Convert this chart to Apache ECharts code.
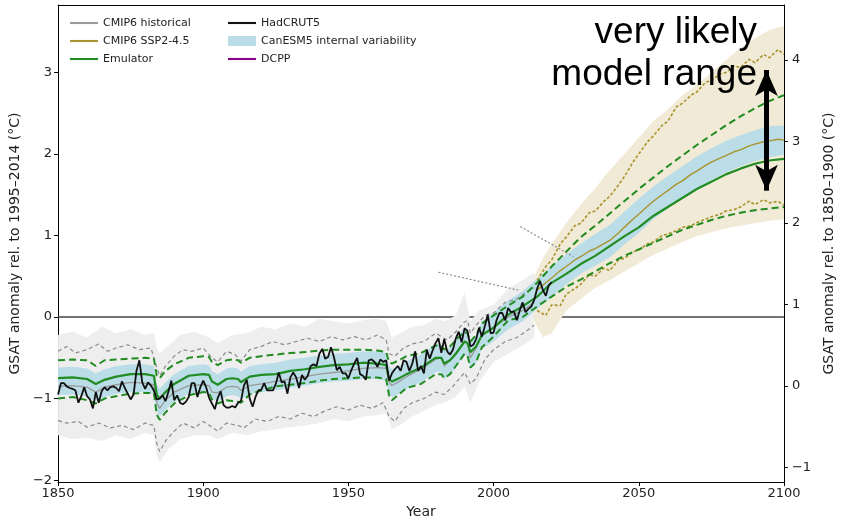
<!DOCTYPE html>
<html><head><meta charset="utf-8">
<script src="https://cdn.jsdelivr.net/npm/echarts@6/dist/echarts.min.js"></script>
<style>html,body{margin:0;padding:0;background:#fff}#c{width:844px;height:524px}</style>
</head><body><div id="c"></div>
<script>
// ---------- tick labels ----------
const xTicks = [1850, 1900, 1950, 2000, 2050, 2100];
const leftTicks = [-2, -1, 0, 1, 2, 3];
const rightTicks = [-1, 0, 1, 2, 3, 4];

// ---------- Emulator (green) and CanESM5 band (blue) ----------
const emuYears = [1850,1855,1860,1863,1866,1870,1875,1880,1883,1884,1885,1887,
  1890,1895,1900,1902,1903,1905,1908,1910,1912,1913,1916,
  1920,1925,1930,1935,1940,1945,1950,1955,1960,1963,
  1964,1965,1968,1970,1975,1980,1982,1983,1985,1987,1990,1991,1992,1994,1996,
  2000,2005,2010,2015,2020,2025,2030,2035,2040,2045,2050,2055,2060,2065,2070,2075,2080,2085,2090,2095,2100];
const emuMid = [-0.75,-0.74,-0.76,-0.82,-0.77,-0.73,-0.70,-0.70,-0.72,-0.95,-1.00,-0.92,
  -0.82,-0.72,-0.70,-0.71,-0.79,-0.83,-0.76,-0.75,-0.76,-0.80,-0.73,
  -0.71,-0.70,-0.66,-0.64,-0.61,-0.59,-0.58,-0.56,-0.57,-0.59,
  -0.76,-0.79,-0.74,-0.70,-0.62,-0.50,-0.50,-0.57,-0.53,-0.45,-0.30,-0.32,-0.43,-0.36,-0.22,
  -0.13,0.03,0.13,0.25,0.42,0.53,0.65,0.75,0.87,0.99,1.10,1.24,1.35,1.46,1.57,1.66,1.75,1.82,1.88,1.92,1.94];
const emuHigh = [-0.53,-0.52,-0.53,-0.60,-0.53,-0.52,-0.51,-0.50,-0.51,-0.72,-0.75,-0.66,
  -0.58,-0.50,-0.48,-0.49,-0.55,-0.59,-0.53,-0.52,-0.53,-0.56,-0.50,
  -0.48,-0.46,-0.44,-0.43,-0.41,-0.40,-0.40,-0.40,-0.41,-0.43,
  -0.55,-0.57,-0.52,-0.48,-0.44,-0.35,-0.35,-0.40,-0.36,-0.28,-0.18,-0.20,-0.30,-0.22,-0.08,
  0.02,0.14,0.25,0.42,0.62,0.80,0.98,1.12,1.27,1.42,1.57,1.71,1.85,1.98,2.11,2.23,2.35,2.46,2.56,2.65,2.72];
const emuLow = [-1.00,-0.98,-1.02,-1.06,-1.00,-0.97,-0.94,-0.93,-0.93,-1.20,-1.26,-1.17,
  -1.06,-0.96,-0.92,-0.93,-1.01,-1.06,-1.02,-1.03,-1.04,-1.05,-0.95,
  -0.90,-0.85,-0.83,-0.81,-0.78,-0.76,-0.75,-0.74,-0.74,-0.76,
  -0.96,-1.02,-0.93,-0.87,-0.82,-0.70,-0.70,-0.75,-0.70,-0.60,-0.45,-0.47,-0.62,-0.55,-0.37,
  -0.24,-0.04,0.00,0.13,0.25,0.37,0.46,0.56,0.66,0.75,0.83,0.91,0.99,1.07,1.13,1.19,1.24,1.28,1.31,1.33,1.35];
const blueHigh = [-0.62,-0.61,-0.63,-0.69,-0.64,-0.60,-0.58,-0.58,-0.60,-0.82,-0.88,-0.80,
  -0.70,-0.60,-0.58,-0.59,-0.66,-0.70,-0.63,-0.62,-0.63,-0.67,-0.60,
  -0.58,-0.56,-0.52,-0.50,-0.47,-0.45,-0.44,-0.42,-0.42,-0.44,
  -0.60,-0.64,-0.59,-0.54,-0.46,-0.34,-0.33,-0.42,-0.37,-0.28,-0.12,-0.14,-0.30,-0.22,-0.05,
  0.05,0.20,0.32,0.47,0.62,0.77,0.90,1.02,1.13,1.29,1.45,1.60,1.73,1.85,1.97,2.07,2.16,2.23,2.29,2.34,2.35];
const blueLow = [-0.96,-0.95,-0.97,-1.03,-0.98,-0.94,-0.92,-0.92,-0.94,-1.16,-1.22,-1.14,
  -1.04,-0.94,-0.92,-0.93,-1.00,-1.04,-0.97,-0.96,-0.97,-1.01,-0.94,
  -0.92,-0.90,-0.86,-0.84,-0.81,-0.79,-0.78,-0.76,-0.76,-0.78,
  -0.94,-0.98,-0.93,-0.88,-0.80,-0.68,-0.67,-0.76,-0.71,-0.62,-0.46,-0.48,-0.64,-0.56,-0.39,
  -0.30,-0.15,-0.05,0.10,0.25,0.40,0.53,0.63,0.73,0.89,1.03,1.20,1.33,1.45,1.57,1.68,1.77,1.85,1.91,1.96,1.99];

// ---------- CMIP6 historical (grey) ----------
const histYears = [1850,1855,1860,1863,1866,1870,1875,1880,1883,1884,1885,1887,
  1890,1895,1900,1902,1903,1905,1908,1910,1912,1913,1916,
  1920,1925,1930,1935,1940,1945,1950,1955,1960,1963,
  1964,1965,1968,1970,1975,1980,1982,1983,1985,1987,1990,1991,1992,1994,1996,
  2000,2005,2010,2014];
const histMean = [-0.85,-0.84,-0.86,-0.92,-0.86,-0.83,-0.80,-0.81,-0.83,-1.05,-1.12,-1.02,
  -0.92,-0.84,-0.83,-0.84,-0.92,-0.93,-0.86,-0.85,-0.86,-0.90,-0.84,
  -0.82,-0.79,-0.76,-0.73,-0.70,-0.68,-0.66,-0.63,-0.62,-0.63,
  -0.80,-0.84,-0.78,-0.73,-0.64,-0.52,-0.50,-0.60,-0.53,-0.44,-0.30,-0.31,-0.50,-0.38,-0.22,
  -0.13,0.00,0.08,0.18];
const q95Years = [1850,1853,1856,1860,1864,1867,1870,1874,1878,1882,1884,1885,1887,1890,1893,1896,1900,1903,1905,1908,
  1911,1913,1916,1920,1924,1928,1932,1936,1940,1944,1948,1952,1956,1960,1963,1964,1966,1969,1972,1976,
  1980,1982,1984,1987,1990,1991,1992,1994,1997,2000,2004,2008,2011,2014];
const q95 = [-0.42,-0.36,-0.44,-0.40,-0.33,-0.42,-0.38,-0.34,-0.40,-0.38,-0.62,-0.72,-0.60,-0.48,-0.40,-0.42,-0.38,-0.50,-0.55,-0.42,
  -0.46,-0.54,-0.40,-0.36,-0.30,-0.34,-0.30,-0.26,-0.30,-0.24,-0.28,-0.24,-0.28,-0.22,-0.28,-0.45,-0.48,-0.38,-0.33,-0.30,
  -0.20,-0.24,-0.28,-0.18,-0.06,-0.04,-0.20,-0.10,0.02,0.05,0.18,0.22,0.30,0.36];
const q5Years = [1850,1853,1857,1860,1864,1868,1872,1876,1880,1883,1884,1885,1887,1890,1893,1897,1900,1903,1905,1908,
  1912,1914,1918,1922,1926,1930,1934,1938,1942,1946,1950,1954,1958,1962,1964,1966,1969,1972,1976,1980,
  1983,1986,1990,1992,1994,1997,2000,2004,2008,2011,2014];
const q5 = [-1.27,-1.30,-1.28,-1.35,-1.30,-1.36,-1.33,-1.38,-1.30,-1.33,-1.55,-1.65,-1.52,-1.40,-1.30,-1.36,-1.28,-1.35,-1.40,-1.30,
  -1.33,-1.36,-1.25,-1.28,-1.22,-1.25,-1.18,-1.22,-1.15,-1.10,-1.14,-1.08,-1.12,-1.05,-1.22,-1.28,-1.12,-1.05,-1.00,-0.92,
  -0.95,-0.85,-0.68,-0.82,-0.75,-0.52,-0.40,-0.30,-0.25,-0.18,-0.10];
const cloudYears = [1850,1855,1860,1865,1870,1875,1880,1883,1884,1885,1888,1892,1897,1902,1905,1910,1915,1920,1925,1930,
  1935,1940,1945,1950,1955,1960,1963,1965,1968,1972,1976,1980,1983,1987,1990,1992,1995,2000,2005,2010,2014];
const cloudHigh = [-0.22,-0.18,-0.25,-0.12,-0.20,-0.15,-0.22,-0.20,-0.38,-0.45,-0.35,-0.22,-0.18,-0.25,-0.32,-0.22,-0.20,-0.12,-0.15,-0.08,
  -0.12,-0.02,-0.05,-0.08,-0.04,-0.02,-0.05,-0.25,-0.20,-0.12,-0.10,-0.02,-0.05,0.02,0.30,-0.05,0.08,0.15,0.35,0.45,0.55];
const cloudLow = [-1.45,-1.50,-1.48,-1.52,-1.45,-1.50,-1.42,-1.45,-1.70,-1.78,-1.62,-1.50,-1.45,-1.45,-1.50,-1.42,-1.45,-1.40,-1.38,-1.35,
  -1.33,-1.30,-1.25,-1.28,-1.22,-1.20,-1.18,-1.38,-1.32,-1.22,-1.15,-1.08,-1.05,-0.98,-0.85,-1.05,-0.80,-0.55,-0.45,-0.35,-0.25];

// ---------- CMIP6 SSP2-4.5 (olive / tan) ----------
const sspYears = [2015,2018,2020,2023,2025,2028,2030,2033,2035,2038,2040,2043,2045,2048,2050,2053,2055,2058,2060,2063,
  2065,2068,2070,2073,2075,2078,2080,2083,2085,2088,2090,2093,2095,2098,2100];
const sspMean = [0.33,0.42,0.48,0.57,0.62,0.70,0.74,0.81,0.84,0.90,0.94,1.03,1.10,1.20,1.26,1.36,1.42,1.50,1.55,1.63,
  1.67,1.75,1.79,1.86,1.90,1.95,1.98,2.03,2.05,2.10,2.12,2.15,2.16,2.18,2.17];
const sspHigh = [0.45,0.62,0.70,0.90,0.98,1.12,1.15,1.28,1.30,1.42,1.48,1.62,1.72,1.90,2.00,2.15,2.22,2.35,2.40,2.58,
  2.62,2.72,2.76,2.88,2.90,2.98,3.00,3.08,3.06,3.16,3.12,3.22,3.18,3.28,3.22];
const sspLow = [0.08,0.02,0.15,0.14,0.28,0.35,0.40,0.52,0.50,0.60,0.57,0.70,0.72,0.80,0.82,0.90,0.92,1.00,1.02,1.06,
  1.10,1.12,1.16,1.20,1.23,1.26,1.30,1.32,1.35,1.42,1.38,1.44,1.40,1.42,1.37];
const tanYears = [2014,2017,2020,2025,2030,2035,2040,2045,2050,2055,2060,2065,2070,2075,2080,2085,2090,2095,2100];
const tanHigh = [0.50,0.72,0.90,1.15,1.38,1.58,1.80,2.00,2.20,2.40,2.55,2.72,2.85,3.00,3.15,3.30,3.42,3.52,3.57];
const tanLow = [-0.05,-0.25,-0.20,0.08,0.22,0.36,0.45,0.56,0.66,0.76,0.84,0.92,0.99,1.04,1.09,1.12,1.15,1.18,1.20];

// ---------- HadCRUT5 (annual, 1850-2020) ----------
const hadStart = 1850;
const hadcrut = [
  -0.95,-0.81,-0.81,-0.85,-0.87,-0.88,-0.90,-1.05,-0.97,-0.86,
  -0.97,-1.01,-1.12,-0.92,-1.05,-0.91,-0.86,-0.90,-0.86,-0.85,
  -0.87,-0.91,-0.79,-0.87,-0.94,-1.01,-0.95,-0.66,-0.53,-0.80,
  -0.88,-0.80,-0.84,-0.90,-1.01,-1.00,-0.96,-1.03,-0.92,-0.78,
  -1.02,-0.96,-1.05,-1.07,-1.04,-0.98,-0.81,-0.81,-0.98,-0.86,
  -0.78,-0.86,-0.99,-1.06,-1.13,-0.99,-0.91,-1.08,-1.11,-1.11,
  -1.09,-1.11,-1.05,-1.03,-0.84,-0.77,-1.00,-1.10,-0.98,-0.90,
  -0.89,-0.81,-0.90,-0.90,-0.90,-0.82,-0.68,-0.80,-0.79,-0.94,
  -0.74,-0.68,-0.74,-0.87,-0.71,-0.77,-0.72,-0.60,-0.58,-0.60,
  -0.45,-0.39,-0.51,-0.49,-0.37,-0.49,-0.65,-0.61,-0.69,-0.69,
  -0.75,-0.65,-0.57,-0.50,-0.70,-0.72,-0.77,-0.53,-0.52,-0.55,
  -0.61,-0.52,-0.55,-0.53,-0.78,-0.69,-0.64,-0.60,-0.66,-0.53,
  -0.55,-0.66,-0.57,-0.42,-0.66,-0.60,-0.69,-0.40,-0.51,-0.41,
  -0.32,-0.26,-0.44,-0.27,-0.42,-0.46,-0.40,-0.26,-0.18,-0.31,
  -0.14,-0.17,-0.36,-0.34,-0.27,-0.13,-0.24,-0.11,0.03,-0.20,
  -0.19,-0.04,0.05,0.05,-0.04,0.11,0.06,0.07,-0.04,0.08,
  0.18,0.06,0.10,0.13,0.21,0.35,0.44,0.33,0.26,0.39,
  0.43];
const dcpp = [];

// ---------- annotations (data coordinates) ----------
const pointerA = [[1981, 0.55], [2008.5, 0.33]];
const pointerB = [[2009.2, 1.11], [2027.5, 0.74]];
const arrowYear = 2094, arrowTop = 3.03, arrowBottom = 1.55;

// ---------- build ----------
const FONT = 'DejaVu Sans';
const GREEN = '#218c21', OLIVE = '#a8942e', GREY = '#9a9a9a', GREYD = '#8a8a8a';
const pairs = (xs, ys) => xs.map((x, i) => [x, ys[i]]);
const minus = v => String(v).replace('-', '\u2212');

// a filled band between lo and hi, drawn as one polygon through the axes' scales
function band(name, xs, lo, hi, color) {
  return {
    name: name, type: 'custom', silent: true, color: color, itemStyle: { color: color },
    data: xs.map((x, i) => [x, lo[i], hi[i]]),
    encode: { x: 0, y: [1, 2] },
    renderItem: function (params, api) {
      if (params.dataIndex !== 0) return null;
      const pts = [];
      for (let i = 0; i < xs.length; i++) pts.push(api.coord([xs[i], hi[i]]));
      for (let i = xs.length - 1; i >= 0; i--) pts.push(api.coord([xs[i], lo[i]]));
      return { type: 'polygon', shape: { points: pts }, style: { fill: color, stroke: null } };
    }
  };
}
function line(name, data, color, width, dash) {
  return { name: name, type: 'line', data: data, symbol: 'none', color: color, silent: true,
    lineStyle: { color: color, width: width, type: dash || 'solid' } };
}

const series = [
  band('hist-cloud', cloudYears, cloudLow, cloudHigh, '#eeeeee'),
  band('ssp-cloud', tanYears, tanLow, tanHigh, '#f1ead6'),
  band('CanESM5 internal variability', emuYears, blueLow, blueHigh, '#badde8'),
  line('hist-q95', pairs(q95Years, q95), GREYD, 1.2, [4, 3]),
  line('hist-q5', pairs(q5Years, q5), GREYD, 1.2, [4, 3]),
  line('CMIP6 historical', pairs(histYears, histMean), GREY, 1.3),
  line('ssp-high', pairs(sspYears, sspHigh), OLIVE, 1.6, [3, 2]),
  line('ssp-low', pairs(sspYears, sspLow), OLIVE, 1.6, [3, 2]),
  line('CMIP6 SSP2-4.5', pairs(sspYears, sspMean), OLIVE, 1.4),
  line('emu-high', pairs(emuYears, emuHigh), GREEN, 2, [7, 4]),
  line('emu-low', pairs(emuYears, emuLow), GREEN, 2, [7, 4]),
  line('Emulator', pairs(emuYears, emuMid), GREEN, 2.2),
  line('HadCRUT5', hadcrut.map((v, i) => [hadStart + i, v]), '#111', 1.8),
  line('DCPP', dcpp, '#8b008b', 2),
  line('pointerA', pointerA, '#8a8a8a', 1.2, [2, 2]),
  line('pointerB', pointerB, '#8a8a8a', 1.2, [2, 2])
];
// zero line (under the bands)
series[0].markLine = { silent: true, z: 1, symbol: 'none', label: { show: false },
  lineStyle: { color: '#444', width: 1.5, type: 'solid' }, data: [{ yAxis: 0 }] };
// double arrow
series[series.length - 1].markLine = { silent: true, symbol: ['arrow', 'arrow'], symbolSize: [17, 26],
  label: { show: false }, lineStyle: { color: '#000', width: 5, type: 'solid' },
  data: [[{ coord: [arrowYear, arrowTop] }, { coord: [arrowYear, arrowBottom] }]] };

const lineIcon = 'path://M0,0H40V3H0Z';
const legendCommon = { orient: 'vertical', top: 16, padding: 0, itemWidth: 28, itemHeight: 10, itemGap: 4,
  selectedMode: false, itemStyle: { borderWidth: 0 },
  textStyle: { fontFamily: FONT, fontSize: 11, color: '#222', lineHeight: 14 } };

const option = {
  animation: false,
  backgroundColor: '#fff',
  grid: { left: 56, right: 48, top: 5, bottom: 38 },
  legend: [
    Object.assign({}, legendCommon, { left: 70, data: [
      { name: 'CMIP6 historical', icon: lineIcon },
      { name: 'CMIP6 SSP2-4.5', icon: lineIcon },
      { name: 'Emulator', icon: lineIcon }] }),
    Object.assign({}, legendCommon, { left: 228, data: [
      { name: 'HadCRUT5', icon: lineIcon },
      { name: 'CanESM5 internal variability', icon: 'rect' },
      { name: 'DCPP', icon: lineIcon }] })
  ],
  xAxis: [
    { type: 'value', min: 1850, max: 2100, interval: 50,
      name: 'Year', nameLocation: 'middle', nameGap: 21,
      nameTextStyle: { fontFamily: FONT, fontSize: 14, color: '#222' },
      axisLine: { show: true, onZero: false, lineStyle: { color: '#000', width: 1 } },
      axisTick: { show: true, length: 4, lineStyle: { color: '#000' } },
      axisLabel: { fontFamily: FONT, fontSize: 13, color: '#222', margin: 5,
        customValues: xTicks, formatter: v => String(v) },
      splitLine: { show: false } },
    { type: 'value', position: 'top', min: 1850, max: 2100, interval: 50,
      axisLine: { show: true, onZero: false, lineStyle: { color: '#000', width: 1 } },
      axisTick: { show: false }, axisLabel: { show: false }, splitLine: { show: false } }
  ],
  yAxis: [
    { type: 'value', position: 'left', min: -2.024, max: 3.827,
      name: 'GSAT anomaly rel. to 1995\u20132014 (\u00b0C)', nameLocation: 'middle', nameGap: 30, nameRotate: 90,
      nameTextStyle: { fontFamily: FONT, fontSize: 14, color: '#222' },
      axisLine: { show: true, onZero: false, lineStyle: { color: '#000', width: 1 } },
      axisTick: { show: true, length: 4, customValues: leftTicks, lineStyle: { color: '#000' } },
      axisLabel: { fontFamily: FONT, fontSize: 13, color: '#222', margin: 6, customValues: leftTicks, formatter: minus },
      splitLine: { show: false } },
    { type: 'value', position: 'right', min: -1.179, max: 4.672,
      name: 'GSAT anomaly rel. to 1850\u20131900 (\u00b0C)', nameLocation: 'middle', nameGap: 30, nameRotate: 90,
      nameTextStyle: { fontFamily: FONT, fontSize: 14, color: '#222' },
      axisLine: { show: true, onZero: false, lineStyle: { color: '#000', width: 1 } },
      axisTick: { show: true, length: 4, customValues: rightTicks, lineStyle: { color: '#000' } },
      axisLabel: { fontFamily: FONT, fontSize: 13, color: '#222', margin: 8, customValues: rightTicks, formatter: minus },
      splitLine: { show: false } }
  ],
  graphic: [
    { type: 'text', x: 757, y: 12, z: 100,
      style: { text: 'very likely\nmodel range', font: '37px "Liberation Sans", Arial, sans-serif',
        fill: '#000', align: 'right', verticalAlign: 'top', lineHeight: 42 } }
  ],
  series: series
};

const chart = echarts.init(document.getElementById('c'), null, { renderer: 'canvas' });
chart.setOption(option);
</script>
</body></html>
